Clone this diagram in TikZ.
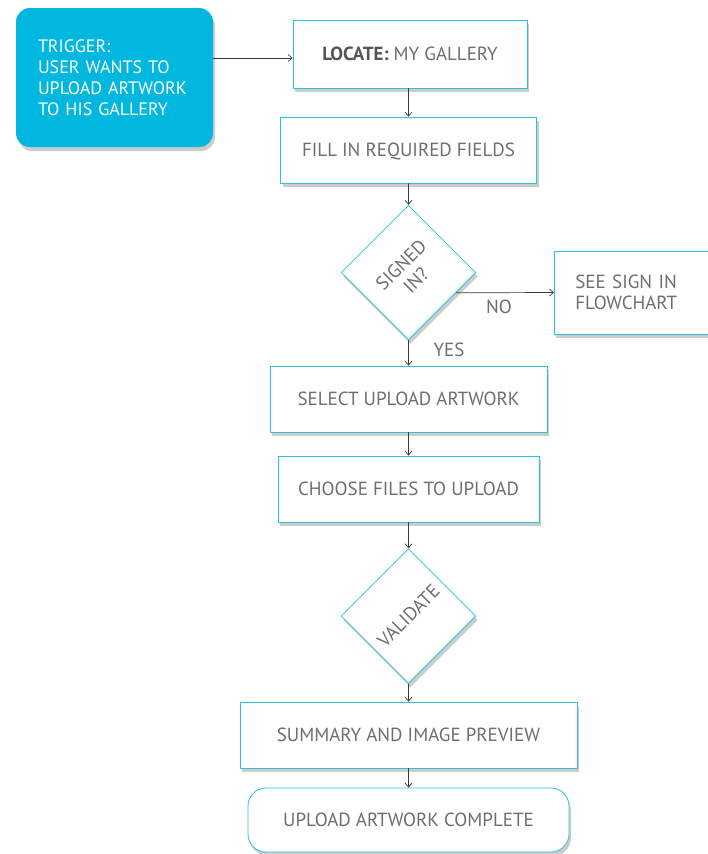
\documentclass[tikz,border=0pt]{standalone}
\usepackage{fontspec}
\setmainfont{PT Sans}
\usetikzlibrary{arrows.meta,shadows,calc}
\definecolor{cyanfill}{HTML}{00B7DF}
\definecolor{cyanline}{HTML}{2CC3E3}
\definecolor{txtgray}{HTML}{6E6E6E}
\definecolor{boldgray}{HTML}{555555}
\definecolor{arrgray}{HTML}{3A3A3A}
\tikzset{
  x=1pt, y=-1pt,
  shad/.style={drop shadow={shadow xshift=2pt, shadow yshift=-4pt, opacity=0.2, fill=black}},
  box/.style={draw=cyanline, line width=0.8pt, fill=white, shad, text=txtgray,
    font=\fontsize{19}{21}\selectfont, inner sep=0pt, align=center},
  oneline/.style={box, text height=13.3pt, text depth=0pt},
  dia/.style={box, rotate=45, minimum width=95pt, minimum height=95pt},
  arr/.style={draw=arrgray, line width=0.7pt, -{Straight Barb[length=4pt,width=7pt]}},
  lbl/.style={text=txtgray, font=\fontsize{19}{21}\selectfont, inner sep=0pt}
}
\begin{document}
\begin{tikzpicture}
\useasboundingbox (0,0) rectangle (708,854);
\fill[white] (0,0) rectangle (708,854);
\node[fill=cyanfill, rounded corners=14pt, shad, text=white, align=left,
  font=\fontsize{18}{21}\selectfont, minimum width=197pt, minimum height=139pt,
  text width=153pt, inner xsep=22pt, inner ysep=0pt] (trig) at (114.5,77.5)
  {TRIGGER:\\USER WANTS TO\\UPLOAD ARTWORK\\TO HIS GALLERY};
\node[oneline, minimum width=234pt, minimum height=68pt] (loc) at (410,54)
  {\textcolor{boldgray}{\bfseries LOCATE:} MY GALLERY};
\node[oneline, minimum width=256pt, minimum height=66pt] (fill) at (408.5,150)
  {FILL IN REQUIRED FIELDS};
\node[dia] (sig) at (408.5,272.5) {SIGNED\\IN?};
\node[box, anchor=west, align=left, text width=128pt, inner xsep=21pt,
  minimum height=83pt] (see) at (554,292.5) {SEE SIGN IN\\FLOWCHART};
\node[oneline, minimum width=277pt, minimum height=66pt] (sel) at (408.5,399)
  {SELECT UPLOAD ARTWORK};
\node[oneline, minimum width=261pt, minimum height=66pt] (cho) at (408.5,489)
  {CHOOSE FILES TO UPLOAD};
\node[dia] (val) at (408.5,616) {VALIDATE};
\node[oneline, minimum width=337pt, minimum height=66pt] (sum) at (408.5,735)
  {SUMMARY AND IMAGE PREVIEW};
\node[oneline, rounded corners=18pt, minimum width=321pt, minimum height=64pt] (done) at (408.5,820)
  {UPLOAD ARTWORK COMPLETE};
\node[lbl] (no) at (499,307) {NO};
\node[lbl] (yes) at (449,350) {YES};
\path (loc.west) ++(0,4) coordinate (lin);
\draw[arr] (trig.east |- lin) -- (lin);
\draw[arr] (fill.north |- loc.south) -- (fill.north);
\draw[arr] (fill.south) -- (sig.north east);
\draw[arr] ($(sig.south east)!0.3!(sig.south west)$) -- (see.west);
\draw[arr] (sig.south west) -- (sel.north);
\draw[arr] (sel.south) -- (cho.north);
\draw[arr] (cho.south) -- (val.north east);
\draw[arr] (val.south west) -- (sum.north);
\draw[arr] (sum.south) -- (done.north);
\end{tikzpicture}
\end{document}
